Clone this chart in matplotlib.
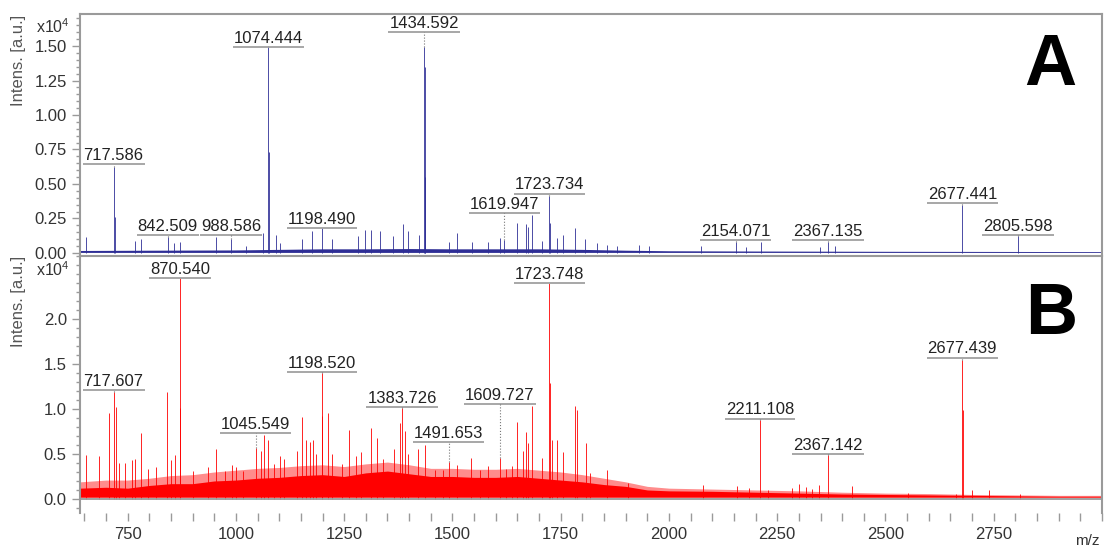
import numpy as np
import matplotlib.pyplot as plt
from matplotlib.ticker import MultipleLocator, FixedLocator, FormatStrFormatter

plt.rcParams['font.family'] = ['Liberation Sans', 'DejaVu Sans']
plt.rcParams['mathtext.fontset'] = 'custom'
plt.rcParams['mathtext.rm'] = 'Liberation Sans'

# spectrum A: peak m/z and intensity (x1e4)
mz_a = [655, 717.586, 720.6, 766, 780, 842.509, 858, 870, 953, 988.586, 1024,
        1062, 1074.444, 1075.45, 1092, 1101, 1152, 1175, 1198.490, 1221, 1281,
        1297, 1313, 1332, 1362, 1385, 1397, 1422, 1434.592, 1435.6, 1436.6,
        1491, 1510, 1545, 1582, 1611, 1619.947, 1648, 1669, 1674, 1683, 1708,
        1723.734, 1724.7, 1741, 1755, 1782, 1805, 1833, 1856, 1881, 1930, 1953,
        2075, 2154.071, 2179, 2212, 2348, 2367.135, 2383, 2677.441, 2805.598]
int_a = [0.115, 0.62, 0.26, 0.09, 0.10, 0.115, 0.07, 0.08, 0.115, 0.10, 0.05,
         0.145, 1.50, 0.73, 0.13, 0.07, 0.10, 0.16, 0.18, 0.10, 0.12,
         0.17, 0.17, 0.16, 0.12, 0.21, 0.16, 0.13, 1.49, 1.35, 0.55,
         0.08, 0.145, 0.08, 0.08, 0.11, 0.095, 0.22, 0.21, 0.19, 0.275, 0.09,
         0.41, 0.22, 0.11, 0.13, 0.18, 0.10, 0.07, 0.06, 0.05, 0.06, 0.05,
         0.05, 0.08, 0.04, 0.08, 0.04, 0.08, 0.05, 0.35, 0.12]

# spectrum B
mz_b = [655, 685, 708, 717.607, 724, 731, 745, 759, 766, 780, 797, 816, 842,
        849, 860, 870.540, 871.5, 900, 935, 953, 974, 992, 1001, 1016,
        1045.549, 1059, 1066, 1075, 1089, 1101, 1112, 1140, 1152, 1161, 1170,
        1177, 1186, 1198.520, 1199.5, 1212, 1223, 1246, 1262, 1278, 1290, 1313,
        1325, 1339, 1366, 1378, 1383.726, 1390, 1397, 1420, 1436, 1459, 1478,
        1491.653, 1510, 1544, 1563, 1581, 1609.727, 1623, 1637, 1648, 1662,
        1669, 1674, 1683, 1708, 1723.748, 1724.7, 1731, 1741, 1755, 1782, 1787,
        1808, 1817, 1856, 1905, 2078, 2156, 2186, 2211.108, 2228, 2283, 2300,
        2316, 2330, 2346, 2367.142, 2422, 2551, 2664, 2677.439, 2678.4, 2699,
        2738, 2810]
int_b = [0.49, 0.48, 0.95, 1.19, 1.02, 0.40, 0.40, 0.43, 0.44, 0.73, 0.33, 0.36, 1.19,
         0.43, 0.49, 2.45, 1.01, 0.31, 0.36, 0.56, 0.31, 0.38, 0.36, 0.31,
         0.57, 0.53, 0.71, 0.65, 0.39, 0.48, 0.44, 0.53, 0.91, 0.65, 0.63,
         0.66, 0.50, 1.40, 0.92, 0.95, 0.50, 0.39, 0.77, 0.48, 0.52, 0.79,
         0.68, 0.44, 0.56, 0.84, 1.01, 0.75, 0.50, 0.56, 0.60, 0.32, 0.32,
         0.41, 0.38, 0.46, 0.32, 0.37, 0.46, 0.33, 0.37, 0.85, 0.53,
         0.74, 0.62, 1.03, 0.46, 2.40, 1.29, 0.66, 0.66, 0.52, 1.03, 0.99,
         0.62, 0.29, 0.32, 0.18, 0.15, 0.14, 0.12, 0.88, 0.10, 0.12, 0.17,
         0.13, 0.11, 0.15, 0.49, 0.14, 0.07, 0.05, 1.54, 0.99, 0.10,
         0.10, 0.05]

# noise floor read every ~50-100 m/z
floor_mz_a = [640, 800, 1000, 1100, 1200, 1300, 1400, 1500, 1600, 1700, 1800,
              1900, 2000, 2200, 2500, 3000]
floor_a = [0.018, 0.02, 0.022, 0.026, 0.03, 0.03, 0.032, 0.03, 0.03, 0.03, 0.026,
           0.02, 0.016, 0.014, 0.012, 0.01]

floor_mz_b = [640, 700, 750, 800, 850, 900, 950, 1000, 1050, 1100, 1150, 1200,
              1250, 1300, 1350, 1400, 1450, 1500, 1550, 1600, 1650, 1700, 1750,
              1800, 1850, 1900, 1950, 2000, 2100, 2200, 2300, 2400, 2500, 2600,
              2700, 2800, 2900, 3000]
floor_b = [0.12, 0.13, 0.12, 0.15, 0.17, 0.17, 0.20, 0.21, 0.23, 0.24, 0.26, 0.27,
           0.25, 0.29, 0.31, 0.28, 0.25, 0.25, 0.24, 0.24, 0.25, 0.23, 0.21,
           0.19, 0.16, 0.14, 0.10, 0.09, 0.085, 0.075, 0.065, 0.055, 0.05, 0.045,
           0.04, 0.035, 0.03, 0.03]
grass_b = [0.19, 0.21, 0.21, 0.23, 0.26, 0.27, 0.30, 0.32, 0.34, 0.35, 0.37, 0.38,
           0.36, 0.39, 0.41, 0.38, 0.34, 0.34, 0.33, 0.33, 0.34, 0.32, 0.30,
           0.27, 0.23, 0.19, 0.14, 0.12, 0.11, 0.10, 0.09, 0.075, 0.065, 0.06,
           0.05, 0.045, 0.04, 0.04]

# labelled peaks and the level of their label underline
lab_a = ['717.586', '842.509', '988.586', '1074.444', '1198.490', '1434.592',
         '1619.947', '1723.734', '2154.071', '2367.135', '2677.441', '2805.598']
lab_lev_a = [0.645, 0.13, 0.13, 1.49, 0.18, 1.60, 0.29, 0.43, 0.094, 0.094, 0.36, 0.13]
lab_b = ['717.607', '870.540', '1045.549', '1198.520', '1383.726', '1491.653',
         '1609.727', '1723.748', '2211.108', '2367.142', '2677.439']
lab_lev_b = [1.21, 2.45, 0.73, 1.41, 1.02, 0.63, 1.05, 2.40, 0.89, 0.50, 1.57]

W, H = 1105, 548
fig = plt.figure(figsize=(W / 100, H / 100), dpi=100)
ax_a = fig.add_axes([80 / W, 1 - 256 / H, 1022 / W, 242 / H])
ax_b = fig.add_axes([80 / W, 1 - 513 / H, 1022 / W, 257 / H])

frame = '#9a9a9a'
blue = '#2e2e96'
red = '#ff0000'

ax_a.fill_between(floor_mz_a, 0.004, floor_a, color=blue, lw=0)
ax_a.vlines(mz_a, 0, int_a, color=blue, lw=0.6)
ax_b.fill_between(floor_mz_b, 0.02, grass_b, color=red, lw=0, alpha=0.45)
ax_b.fill_between(floor_mz_b, 0.02, floor_b, color=red, lw=0)
ax_b.vlines(mz_b, 0, int_b, color=red, lw=0.6)
ax_b.axhline(0, color=frame, lw=1.3)

for ax, ylim, majors, minor, fmt in [(ax_a, (-0.022, 1.732), [0, 0.25, 0.5, 0.75, 1.0, 1.25, 1.5], 0.05, '%.2f'),
                                     (ax_b, (-0.156, 2.70), [0, 0.5, 1.0, 1.5, 2.0], 0.1, '%.1f')]:
    ax.set_xlim(640, 3000)
    ax.set_ylim(*ylim)
    ax.yaxis.set_major_locator(FixedLocator(majors))
    ax.yaxis.set_minor_locator(MultipleLocator(minor))
    ax.yaxis.set_major_formatter(FormatStrFormatter(fmt))
    ax.tick_params(axis='y', which='major', length=6, width=1, color=frame,
                   labelsize=12, labelcolor='#333333', pad=3.5)
    ax.tick_params(axis='y', which='minor', length=3, width=1, color=frame)
    for s in ax.spines.values():
        s.set_color(frame)
        s.set_linewidth(1.5)

ax_a.tick_params(axis='x', which='both', bottom=False, labelbottom=False)
ax_a.spines['bottom'].set_visible(False)
ax_b.spines['bottom'].set_visible(False)
ax_b.xaxis.set_major_locator(FixedLocator([750, 1000, 1250, 1500, 1750, 2000, 2250, 2500, 2750]))
ax_b.xaxis.set_minor_locator(MultipleLocator(50))
ax_b.tick_params(axis='x', which='both', length=6, width=1, color=frame,
                 labelsize=12, labelcolor='#333333', pad=4)


def label_peaks(ax, mzs, ints, labels, levels):
    texts = []
    for txt, lev in zip(labels, levels):
        mz = float(txt)
        t = ax.annotate(txt, xy=(mz, lev), xytext=(0, 3.2), textcoords='offset points',
                        ha='center', va='baseline', fontsize=12, color='#222222')
        texts.append((t, mz, lev))
    fig.canvas.draw()
    r = fig.canvas.get_renderer()
    inv = ax.transData.inverted()
    for t, mz, lev in texts:
        bb = t.get_window_extent(r)
        x0 = inv.transform((bb.x0 - 1, 0))[0]
        x1 = inv.transform((bb.x1 + 1, 0))[0]
        ax.plot([x0, x1], [lev, lev], color='#a0a0a0', lw=1.3, solid_capstyle='butt')
        top = ints[int(np.argmin(np.abs(np.array(mzs) - mz)))]
        if lev - top > 0.005:
            ax.plot([mz, mz], [top, lev], color='#777777', lw=0.8, ls=':')


label_peaks(ax_a, mz_a, int_a, lab_a, lab_lev_a)
label_peaks(ax_b, mz_b, int_b, lab_b, lab_lev_b)

for ytop, ybase in [(15, 33), (256, 276)]:
    fig.text(19 / W, 1 - ytop / H, 'Intens. [a.u.]', rotation=90, ha='center', va='top',
             fontsize=12, color='#555555')
    fig.text(36 / W, 1 - ybase / H, r'x10$^{\mathregular{4}}$', ha='left', va='baseline',
             fontsize=11.5, color='#333333')

fig.text(1050 / W, 1 - 85 / H, 'A', ha='center', va='baseline', fontsize=52,
         fontweight='bold', color='black')
fig.text(1051 / W, 1 - 334 / H, 'B', ha='center', va='baseline', fontsize=52,
         fontweight='bold', color='black')
fig.text(1100 / W, 1 - 545 / H, 'm/z', ha='right', va='baseline', fontsize=11,
         color='#333333')

fig.savefig('out.png', dpi=100)
